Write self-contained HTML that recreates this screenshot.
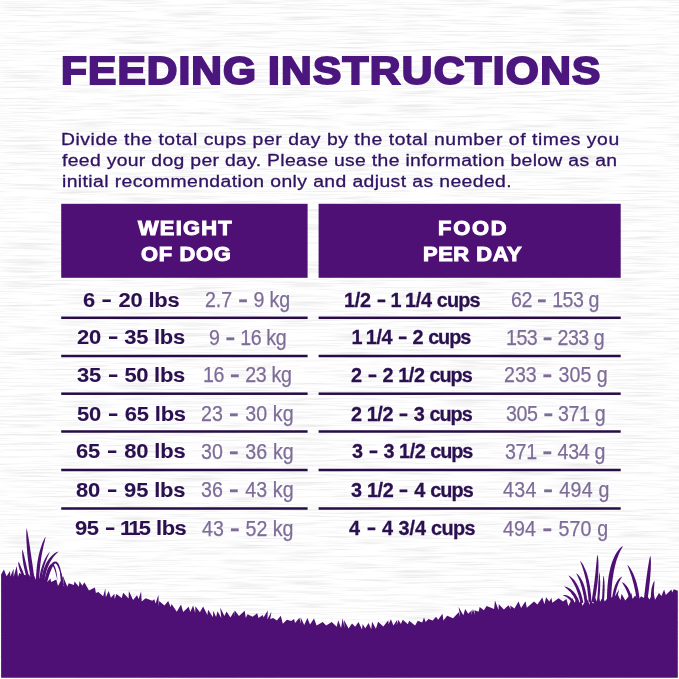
<!DOCTYPE html>
<html lang="en"><head><meta charset="utf-8"><title>Feeding Instructions</title>
<style>
html,body{margin:0;padding:0}
body{width:679px;height:679px;overflow:hidden;background:#f8f8f8;position:relative;font-family:"Liberation Sans",sans-serif}
.abs{position:absolute;white-space:nowrap;line-height:1;transform-origin:0 0}
#bg{position:absolute;left:0;top:0;width:679px;height:679px}
.title{color:#4b167e;font-weight:bold;font-size:38.6px;-webkit-text-stroke:2px #4b167e;transform:scaleX(1.1)}
.para{color:#2f1262;font-size:17.3px;-webkit-text-stroke:0.3px #2f1262;transform:scaleX(1.12)}
.hd{background:#4f1075;position:absolute}
.hdt{color:#fff;font-weight:bold;font-size:19.9px;-webkit-text-stroke:1px #fff;transform:scaleX(1.1)}
.ln{position:absolute;height:2.5px;background:#270c46}
.b{color:#2b1050;font-weight:bold;font-size:21.1px;-webkit-text-stroke:0.1px #2b1050;transform:scaleX(1.04)}
.d{display:inline-block;transform:translateY(-0.4px) scale(0.76,1.1);transform-origin:50% 62%}
.l .d{transform:translateY(0.2px) scale(0.7,1.45)}
.f{letter-spacing:calc(var(--ls) - 0.3px)}
.w{letter-spacing:calc(var(--ls) - 0.9px)}
.o{margin:0 -1.5px}
.c{word-spacing:-0.5px;transform:scaleX(0.94);-webkit-text-stroke:0.3px #2b1050}
.l{color:#7d6c98;font-size:22.3px;-webkit-text-stroke:0.25px #7d6c98;transform:scaleX(0.88)}
</style></head><body>
<svg id="bg" viewBox="0 0 679 679">
<defs><filter id="tx" x="0" y="0" width="100%" height="100%" color-interpolation-filters="sRGB">
<feTurbulence type="fractalNoise" baseFrequency="0.018 0.55" numOctaves="3" seed="4" result="n"/>
<feColorMatrix type="matrix" values="0.2 0 0 0 0.89  0.2 0 0 0 0.89  0.2 0 0 0 0.89  0 0 0 0 1"/>
</filter></defs>
<rect x="0" y="0" width="679" height="679" fill="#f8f8f8" filter="url(#tx)"/>
<g fill="#4f1075">
<path d="M1.1,677.8 L1.1,574.5 L3.9,569.6 L6.6,576.2 L10.0,570.9 L10.4,576.5 L13.6,568.7 L13.6,577.1 L16.7,565.9 L18.0,577.0 L19.2,573.0 L24.1,575.3 L29.2,574.5 L30.2,576.9 L33.0,573.5 L36.1,580.1 L42.9,576.9 L47.1,582.1 L50.5,578.6 L51.1,582.0 L56.3,579.5 L58.0,586.1 L63.3,575.7 L60.9,585.5 L61.4,579.7 L64.2,586.8 L62.7,575.4 L67.4,586.7 L68.7,583.2 L73.9,585.1 L74.5,581.4 L78.9,586.8 L79.5,581.2 L82.4,585.8 L84.3,582.3 L89.0,590.5 L94.9,587.6 L95.9,592.9 L98.3,592.1 L103.2,596.2 L105.3,588.6 L105.8,597.3 L108.7,590.9 L110.9,597.7 L114.4,593.8 L114.7,599.1 L116.4,593.9 L121.7,598.0 L123.2,592.7 L128.6,598.6 L128.9,591.1 L133.1,600.1 L137.0,595.2 L138.7,598.9 L141.1,591.3 L141.7,601.5 L145.6,598.2 L152.3,600.8 L154.3,599.3 L155.6,603.5 L158.4,594.7 L158.8,606.4 L159.2,601.1 L164.4,605.4 L168.2,601.0 L170.6,607.0 L171.6,604.1 L176.8,611.7 L181.0,604.4 L183.2,611.9 L188.7,606.7 L190.3,612.1 L193.1,605.4 L195.2,612.8 L195.4,606.2 L199.9,612.3 L203.1,606.4 L207.4,615.1 L208.1,609.7 L213.0,617.3 L213.2,610.8 L216.1,616.9 L217.5,611.2 L221.3,617.9 L220.2,607.4 L224.4,616.0 L226.6,611.4 L230.4,617.4 L234.4,611.0 L234.3,617.0 L234.8,610.5 L239.0,616.0 L244.7,610.8 L245.8,618.1 L247.5,614.3 L252.6,616.7 L257.2,613.3 L258.5,618.0 L262.8,615.1 L263.5,617.5 L267.8,610.6 L267.4,619.3 L271.4,611.7 L270.2,619.1 L273.2,618.0 L276.9,620.6 L280.8,615.8 L282.8,623.7 L286.9,619.8 L291.2,621.1 L294.1,619.0 L295.0,623.0 L299.4,617.8 L300.8,623.8 L300.6,617.3 L304.2,625.1 L307.4,618.1 L310.0,624.6 L314.0,618.6 L316.6,625.5 L322.7,622.0 L326.2,625.6 L331.7,622.1 L336.7,626.8 L338.2,620.2 L341.1,628.1 L342.7,618.2 L344.5,628.1 L344.0,620.0 L348.6,628.4 L352.0,623.6 L355.2,626.7 L358.5,622.0 L362.0,629.4 L362.6,623.9 L365.3,628.3 L368.6,623.1 L371.2,629.3 L372.1,621.7 L375.9,628.7 L378.1,621.8 L383.3,626.5 L388.3,620.2 L388.6,624.3 L390.9,619.3 L393.4,625.6 L397.3,619.8 L396.7,625.0 L398.4,619.9 L400.9,623.9 L402.8,619.8 L407.9,624.3 L409.1,620.8 L415.1,625.5 L417.8,620.7 L422.2,622.6 L424.0,617.5 L425.7,622.0 L428.4,619.0 L432.7,620.4 L436.0,616.8 L438.1,619.8 L442.5,613.8 L443.4,620.5 L447.2,615.7 L453.1,618.2 L458.7,612.2 L460.3,617.5 L458.6,607.0 L463.3,615.2 L465.2,609.0 L468.2,613.8 L471.8,610.2 L471.3,615.0 L473.0,609.0 L474.8,614.8 L474.4,610.3 L478.6,611.7 L479.7,607.1 L483.9,610.3 L486.6,605.9 L494.1,609.0 L495.0,600.5 L498.5,610.1 L498.8,604.2 L503.9,609.6 L508.5,605.3 L510.7,609.2 L510.2,605.4 L514.5,608.4 L518.5,601.4 L521.1,608.0 L525.5,601.2 L526.8,607.8 L534.0,601.6 L537.4,604.6 L542.3,597.5 L544.4,604.2 L546.1,597.3 L549.3,601.4 L551.4,597.7 L552.3,602.8 L558.6,598.2 L563.0,601.6 L566.4,599.1 L568.4,606.0 L572.2,598.1 L574.9,603.6 L575.4,600.1 L579.0,603.7 L581.0,600.5 L582.5,605.8 L586.8,598.5 L589.8,605.0 L589.2,598.0 L593.2,603.8 L595.0,597.6 L596.9,601.5 L598.6,595.4 L600.1,601.7 L602.8,596.9 L604.8,601.5 L608.0,597.3 L614.4,597.2 L619.0,589.4 L617.2,599.0 L616.7,592.0 L620.4,600.3 L621.6,593.8 L625.3,600.4 L631.3,593.1 L632.6,599.1 L635.2,595.4 L638.3,599.9 L641.1,596.2 L644.5,598.2 L646.7,595.3 L649.6,599.5 L653.4,591.6 L655.0,599.7 L659.0,593.0 L661.5,595.9 L664.1,589.4 L665.8,595.0 L671.4,589.4 L672.2,592.6 L673.8,589.3 L677.8,590.7 L677.8,590.0 L677.8,677.8 Z"/>
<path d="M34.8,580.7 L34.3,577.3 L33.8,573.9 L33.3,570.4 L32.8,566.8 L32.3,563.2 L31.7,559.5 L31.2,555.8 L30.6,552.0 L30.1,548.1 L29.5,544.2 L28.9,540.2 L28.2,536.2 L27.5,532.1 L26.5,528.0 L26.5,528.0 L26.3,532.2 L26.3,536.4 L26.4,540.5 L26.7,544.5 L26.9,548.5 L27.2,552.4 L27.6,556.2 L28.0,560.0 L28.5,563.7 L28.9,567.4 L29.5,570.9 L30.0,574.5 L30.6,577.9 L31.2,581.3 Z"/>
<path d="M39.0,583.0 L39.1,579.3 L39.3,575.6 L39.6,572.0 L39.9,568.4 L40.3,565.0 L40.7,561.6 L41.2,558.3 L41.7,555.0 L42.3,551.8 L43.0,548.7 L43.6,545.6 L44.4,542.5 L45.1,539.5 L45.7,536.5 L45.7,536.5 L44.1,539.2 L42.8,542.0 L41.7,545.0 L40.7,548.1 L39.7,551.2 L38.9,554.4 L38.2,557.7 L37.6,561.1 L37.1,564.6 L36.7,568.1 L36.4,571.7 L36.1,575.4 L36.0,579.2 L36.0,583.0 Z"/>
<path d="M44.0,584.1 L44.4,580.9 L44.9,577.8 L45.5,574.9 L46.2,572.1 L47.0,569.5 L47.9,567.0 L48.9,564.7 L49.9,562.5 L51.1,560.4 L52.4,558.4 L53.8,556.6 L55.3,554.8 L56.9,553.2 L58.5,551.4 L58.5,551.4 L56.3,552.3 L54.2,553.6 L52.3,555.2 L50.6,556.9 L48.9,558.9 L47.5,561.0 L46.1,563.3 L45.0,565.8 L43.9,568.4 L43.1,571.2 L42.3,574.2 L41.7,577.3 L41.3,580.5 L41.0,583.9 Z"/>
<path d="M41.1,583.1 L41.4,580.5 L41.7,578.0 L42.1,575.6 L42.5,573.2 L43.1,570.8 L43.6,568.6 L44.2,566.3 L44.9,564.1 L45.6,562.0 L46.4,559.9 L47.2,557.8 L48.1,555.8 L49.0,553.8 L49.8,551.7 L49.8,551.7 L48.3,553.4 L47.1,555.2 L45.9,557.2 L44.8,559.2 L43.9,561.3 L43.0,563.5 L42.2,565.7 L41.5,568.0 L40.8,570.3 L40.3,572.7 L39.8,575.2 L39.4,577.7 L39.1,580.3 L38.9,582.9 Z"/>
<path d="M29.8,579.7 L29.1,577.2 L28.5,574.7 L28.0,572.3 L27.4,570.0 L26.9,567.7 L26.4,565.4 L25.9,563.2 L25.4,561.1 L24.9,559.0 L24.5,556.9 L24.0,554.9 L23.5,553.0 L23.0,551.1 L22.4,549.2 L22.4,549.2 L22.2,551.2 L22.2,553.2 L22.3,555.2 L22.4,557.3 L22.7,559.4 L23.0,561.5 L23.3,563.8 L23.7,566.0 L24.2,568.3 L24.7,570.6 L25.3,573.0 L25.9,575.4 L26.5,577.8 L27.2,580.3 Z"/>
<path d="M25.8,578.5 L25.2,577.0 L24.6,575.6 L24.0,574.2 L23.5,572.9 L22.9,571.6 L22.4,570.3 L21.9,569.1 L21.4,567.9 L20.9,566.8 L20.4,565.7 L20.0,564.6 L19.5,563.6 L19.0,562.6 L18.4,561.7 L18.4,561.7 L18.3,562.8 L18.3,563.9 L18.5,565.1 L18.7,566.2 L19.0,567.4 L19.3,568.6 L19.7,569.9 L20.2,571.2 L20.6,572.5 L21.2,573.8 L21.8,575.2 L22.4,576.6 L23.0,578.0 L23.8,579.5 Z"/>
<path d="M46.0,586.3 L47.7,580.2 L49.2,575.1 L50.7,571.0 L52.1,567.7 L53.3,565.4 L54.4,564.0 L55.2,563.6 L55.7,563.6 L56.7,564.4 L57.8,566.2 L58.9,569.0 L60.1,572.8 L61.3,577.4 L62.6,583.0 L62.6,583.0 L62.0,577.3 L61.2,572.5 L60.3,568.6 L59.3,565.6 L58.2,563.3 L56.7,561.8 L54.8,561.4 L53.0,562.3 L51.4,564.1 L50.0,566.7 L48.5,570.1 L47.0,574.4 L45.5,579.7 L44.0,585.7 Z"/>
<path d="M44.9,586.2 L46.1,581.0 L47.3,576.6 L48.4,572.9 L49.4,570.0 L50.4,567.8 L51.3,566.4 L51.9,565.9 L52.2,565.8 L52.7,566.1 L53.6,567.3 L54.5,569.4 L55.4,572.2 L56.3,575.7 L57.4,580.0 L57.4,580.0 L57.0,575.6 L56.4,571.9 L55.7,569.0 L54.9,566.7 L54.0,565.1 L52.7,564.1 L51.1,564.1 L49.8,565.2 L48.6,566.9 L47.5,569.2 L46.5,572.3 L45.4,576.1 L44.2,580.6 L43.1,585.8 Z"/>
<path d="M64.0,584.8 L63.8,583.8 L63.6,582.8 L63.4,581.8 L63.2,580.8 L62.9,579.8 L62.7,578.8 L62.5,577.8 L62.3,576.8 L62.0,575.8 L61.8,574.8 L61.5,573.8 L61.2,572.8 L60.9,571.8 L60.4,570.8 L60.4,570.8 L60.2,571.9 L60.1,573.0 L60.2,574.0 L60.2,575.1 L60.3,576.1 L60.4,577.1 L60.5,578.2 L60.7,579.2 L60.8,580.2 L61.0,581.2 L61.3,582.3 L61.5,583.3 L61.7,584.3 L62.0,585.2 Z"/>
<path d="M611.0,602.0 L611.2,596.2 L611.5,590.7 L611.9,585.5 L612.4,580.6 L613.1,575.9 L613.8,571.6 L614.7,567.5 L615.6,563.7 L616.6,560.1 L617.8,556.9 L619.0,553.8 L620.3,551.0 L621.7,548.4 L623.1,545.8 L623.1,545.8 L620.7,547.6 L618.5,549.9 L616.6,552.6 L614.9,555.6 L613.3,558.9 L611.9,562.6 L610.7,566.5 L609.7,570.7 L608.8,575.3 L608.1,580.0 L607.6,585.1 L607.2,590.5 L607.0,596.1 L607.0,602.0 Z"/>
<path d="M594.5,602.3 L595.2,598.3 L595.9,594.4 L596.5,590.5 L597.0,586.8 L597.5,583.2 L597.8,579.6 L598.1,576.1 L598.3,572.8 L598.4,569.5 L598.5,566.3 L598.4,563.1 L598.3,560.1 L598.0,557.2 L597.4,554.4 L597.4,554.4 L596.9,557.2 L596.7,560.1 L596.4,563.1 L596.1,566.1 L595.8,569.3 L595.5,572.5 L595.1,575.9 L594.7,579.3 L594.3,582.8 L593.8,586.4 L593.3,590.1 L592.7,593.9 L592.1,597.8 L591.5,601.7 Z"/>
<path d="M591.4,601.9 L591.2,598.1 L590.9,594.3 L590.5,590.7 L590.1,587.3 L589.5,583.9 L588.9,580.7 L588.1,577.7 L587.3,574.8 L586.4,572.0 L585.3,569.4 L584.2,566.9 L583.0,564.6 L581.6,562.5 L580.0,560.7 L580.0,560.7 L580.8,563.0 L581.7,565.3 L582.5,567.7 L583.3,570.1 L584.1,572.7 L584.8,575.5 L585.5,578.3 L586.1,581.3 L586.7,584.4 L587.2,587.7 L587.6,591.1 L588.0,594.6 L588.4,598.3 L588.6,602.1 Z"/>
<path d="M587.4,601.8 L587.0,598.9 L586.6,596.1 L586.1,593.4 L585.6,590.9 L585.0,588.5 L584.3,586.2 L583.6,584.1 L582.8,582.0 L581.9,580.2 L580.9,578.4 L579.9,576.9 L578.8,575.5 L577.6,574.2 L576.2,573.3 L576.2,573.3 L576.9,574.8 L577.6,576.3 L578.3,577.8 L579.0,579.4 L579.7,581.1 L580.4,583.0 L581.0,584.9 L581.6,587.0 L582.2,589.2 L582.7,591.6 L583.3,594.0 L583.8,596.6 L584.2,599.3 L584.6,602.2 Z"/>
<path d="M583.3,602.7 L582.7,599.8 L582.0,597.1 L581.3,594.5 L580.5,592.0 L579.6,589.7 L578.6,587.5 L577.6,585.4 L576.5,583.5 L575.4,581.7 L574.2,580.1 L572.9,578.7 L571.5,577.4 L570.1,576.3 L568.5,575.6 L568.5,575.6 L569.5,577.0 L570.5,578.4 L571.5,579.8 L572.4,581.4 L573.4,583.0 L574.3,584.7 L575.2,586.6 L576.0,588.6 L576.9,590.7 L577.7,593.0 L578.5,595.3 L579.2,597.9 L580.0,600.5 L580.7,603.3 Z"/>
<path d="M580.3,604.6 L579.6,602.4 L578.8,600.4 L578.0,598.5 L577.0,596.8 L576.1,595.1 L575.0,593.6 L573.9,592.1 L572.7,590.9 L571.4,589.7 L570.1,588.7 L568.7,587.9 L567.3,587.2 L565.8,586.7 L564.2,586.5 L564.2,586.5 L565.4,587.5 L566.5,588.4 L567.7,589.4 L568.7,590.4 L569.8,591.5 L570.8,592.6 L571.7,593.9 L572.7,595.2 L573.6,596.6 L574.5,598.2 L575.3,599.8 L576.1,601.6 L576.9,603.5 L577.7,605.4 Z"/>
<path d="M577.1,607.6 L576.4,605.9 L575.7,604.3 L574.9,602.8 L574.0,601.4 L573.1,600.1 L572.1,599.0 L571.1,598.0 L570.0,597.1 L568.9,596.3 L567.7,595.7 L566.5,595.3 L565.2,595.0 L564.0,594.9 L562.7,595.1 L562.7,595.1 L563.8,595.7 L564.9,596.2 L565.9,596.7 L566.8,597.3 L567.8,598.0 L568.6,598.8 L569.5,599.6 L570.3,600.6 L571.1,601.6 L571.9,602.8 L572.7,604.0 L573.5,605.4 L574.2,606.8 L574.9,608.4 Z"/>
<path d="M599.0,602.1 L599.3,599.7 L599.5,597.3 L599.7,595.0 L599.9,592.7 L600.0,590.4 L600.1,588.2 L600.2,586.0 L600.2,583.9 L600.2,581.8 L600.1,579.8 L600.0,577.8 L599.9,575.8 L599.6,573.9 L599.2,572.1 L599.2,572.1 L598.9,574.0 L598.8,575.9 L598.7,577.8 L598.6,579.8 L598.4,581.8 L598.3,583.9 L598.2,586.0 L598.1,588.1 L597.9,590.3 L597.8,592.5 L597.6,594.8 L597.4,597.1 L597.2,599.5 L597.0,601.9 Z"/>
<path d="M603.8,602.1 L604.0,600.0 L604.2,597.9 L604.3,595.9 L604.4,593.9 L604.5,591.9 L604.6,589.9 L604.6,588.0 L604.6,586.1 L604.5,584.3 L604.5,582.5 L604.3,580.7 L604.2,579.0 L603.9,577.3 L603.5,575.6 L603.5,575.6 L603.2,577.3 L603.1,579.0 L603.0,580.7 L602.9,582.5 L602.8,584.3 L602.7,586.1 L602.6,588.0 L602.5,589.9 L602.4,591.8 L602.3,593.7 L602.2,595.7 L602.1,597.8 L601.9,599.8 L601.8,601.9 Z"/>
<path d="M614.2,602.1 L614.5,599.5 L614.9,597.0 L615.3,594.6 L615.8,592.3 L616.3,590.2 L616.8,588.3 L617.4,586.4 L618.0,584.7 L618.6,583.1 L619.3,581.6 L620.0,580.2 L620.7,579.0 L621.5,577.8 L622.2,576.5 L622.2,576.5 L620.9,577.2 L619.7,578.1 L618.6,579.3 L617.6,580.6 L616.7,582.1 L615.8,583.8 L615.0,585.6 L614.4,587.5 L613.7,589.6 L613.2,591.8 L612.7,594.1 L612.3,596.6 L612.0,599.2 L611.8,601.9 Z"/>
<path d="M647.1,602.2 L647.7,598.5 L648.2,594.7 L648.7,591.1 L649.1,587.5 L649.5,584.0 L649.9,580.6 L650.2,577.2 L650.4,573.9 L650.7,570.7 L650.8,567.5 L650.9,564.4 L650.9,561.4 L650.8,558.4 L650.4,555.5 L650.4,555.5 L649.6,558.3 L649.0,561.2 L648.5,564.2 L648.0,567.2 L647.5,570.3 L647.1,573.5 L646.6,576.8 L646.2,580.1 L645.7,583.6 L645.3,587.1 L644.9,590.6 L644.4,594.3 L644.0,598.0 L643.5,601.8 Z"/>
<path d="M639.9,601.8 L639.6,598.5 L639.1,595.3 L638.6,592.1 L638.1,589.1 L637.4,586.2 L636.7,583.3 L635.9,580.6 L634.9,577.9 L634.0,575.4 L632.9,573.0 L631.7,570.7 L630.4,568.5 L629.0,566.5 L627.4,564.7 L627.4,564.7 L628.1,567.0 L629.0,569.2 L629.8,571.5 L630.7,573.9 L631.5,576.3 L632.2,578.8 L632.9,581.4 L633.6,584.1 L634.3,586.9 L634.9,589.7 L635.5,592.7 L636.0,595.8 L636.5,598.9 L636.9,602.2 Z"/>
<path d="M633.0,601.7 L632.5,599.5 L631.9,597.5 L631.3,595.6 L630.7,593.7 L630.0,592.0 L629.3,590.4 L628.6,588.9 L627.8,587.5 L626.9,586.3 L626.0,585.2 L625.1,584.2 L624.1,583.3 L623.1,582.7 L621.9,582.3 L621.9,582.3 L622.5,583.3 L623.1,584.3 L623.7,585.3 L624.4,586.4 L625.0,587.5 L625.6,588.7 L626.2,590.1 L626.9,591.5 L627.5,593.0 L628.1,594.7 L628.7,596.4 L629.3,598.3 L629.9,600.2 L630.4,602.3 Z"/>
<path d="M653.6,602.0 L653.6,600.2 L653.6,598.5 L653.6,596.9 L653.7,595.3 L653.7,593.7 L653.8,592.1 L653.9,590.6 L654.0,589.1 L654.1,587.7 L654.2,586.3 L654.3,584.9 L654.4,583.5 L654.5,582.1 L654.4,580.7 L654.4,580.7 L653.6,581.9 L653.1,583.2 L652.6,584.5 L652.2,585.9 L651.8,587.4 L651.5,588.8 L651.3,590.4 L651.1,591.9 L651.0,593.5 L650.9,595.2 L650.9,596.8 L650.9,598.5 L650.9,600.3 L651.0,602.0 Z"/>
</g>
<g fill="#4f1075"><rect x="61.2" y="203.8" width="246.4" height="74"/><rect x="318.6" y="203.8" width="302.1" height="74"/></g>
<g fill="#270c46">
<rect x="61.2" y="316.55" width="246.4" height="2.5"/><rect x="318.6" y="316.55" width="302.1" height="2.5"/>
<rect x="61.2" y="354.75" width="246.4" height="2.5"/><rect x="318.6" y="354.75" width="302.1" height="2.5"/>
<rect x="61.2" y="392.45" width="246.4" height="2.5"/><rect x="318.6" y="392.45" width="302.1" height="2.5"/>
<rect x="61.2" y="430.25" width="246.4" height="2.5"/><rect x="318.6" y="430.25" width="302.1" height="2.5"/>
<rect x="61.2" y="468.75" width="246.4" height="2.5"/><rect x="318.6" y="468.75" width="302.1" height="2.5"/>
<rect x="61.2" y="507.25" width="246.4" height="2.5"/><rect x="318.6" y="507.25" width="302.1" height="2.5"/>
</g>
</svg>
<div class="abs title" id="t1" style="left:61.20px;top:52.00px;--ls:0.977px;letter-spacing:var(--ls)">FEEDING</div>
<div class="abs title" id="t2" style="left:267.60px;top:52.00px;--ls:1.167px;letter-spacing:var(--ls)">INSTRUCTIONS</div>
<div class="abs para" id="p1" style="left:61.27px;top:131.00px;--ls:0.485px;letter-spacing:var(--ls)">Divide the total cups per day by the total number of times you</div>
<div class="abs para" id="p2" style="left:62.00px;top:152.00px;--ls:0.291px;letter-spacing:var(--ls)">feed your dog per day. Please use the information below as an</div>
<div class="abs para" id="p3" style="left:61.96px;top:173.00px;--ls:0.358px;letter-spacing:var(--ls)">initial recommendation only and adjust as needed.</div>
<div class="abs hdt" id="h1" style="left:137.85px;top:219.00px;--ls:1.111px;letter-spacing:var(--ls)">WEIGHT</div>
<div class="abs hdt" id="h2" style="left:140.74px;top:245.00px;--ls:0.618px;letter-spacing:var(--ls)">OF DOG</div>
<div class="abs hdt" id="h3" style="left:437.97px;top:219.00px;--ls:1.648px;letter-spacing:var(--ls)">FOOD</div>
<div class="abs hdt" id="h4" style="left:423.01px;top:245.00px;--ls:0.504px;letter-spacing:var(--ls)">PER DAY</div>
<div class="abs b" id="a0" style="left:82.66px;top:289.00px;--ls:-0.234px;letter-spacing:var(--ls)">6 <span class="d">–</span> 20 lbs</div>
<div class="abs l" id="b0" style="left:204.90px;top:289.00px;--ls:-0.129px;letter-spacing:var(--ls)">2.7 <span class="d">–</span> 9 kg</div>
<div class="abs b c" id="c0" style="left:343.53px;top:289.00px;--ls:-0.010px;letter-spacing:var(--ls)"><span class="f">1/2</span> <span class="d">–</span> <span class="o">1</span> <span class="f">1/4</span> <span class="w">cups</span></div>
<div class="abs l" id="d0" style="left:511.45px;top:289.00px;--ls:-0.562px;letter-spacing:var(--ls)">62 <span class="d">–</span> 153 g</div>
<div class="abs b" id="a1" style="left:77.32px;top:326.00px;--ls:-0.278px;letter-spacing:var(--ls)">20 <span class="d">–</span> 35 lbs</div>
<div class="abs l" id="b1" style="left:209.16px;top:327.00px;--ls:-0.435px;letter-spacing:var(--ls)">9 <span class="d">–</span> 16 kg</div>
<div class="abs b c" id="c1" style="left:353.10px;top:326.00px;--ls:-0.216px;letter-spacing:var(--ls)"><span class="o">1</span> <span class="f">1/4</span> <span class="d">–</span> 2 <span class="w">cups</span></div>
<div class="abs l" id="d1" style="left:505.58px;top:327.00px;--ls:-0.577px;letter-spacing:var(--ls)">153 <span class="d">–</span> 233 g</div>
<div class="abs b" id="a2" style="left:77.07px;top:364.00px;--ls:-0.269px;letter-spacing:var(--ls)">35 <span class="d">–</span> 50 lbs</div>
<div class="abs l" id="b2" style="left:202.78px;top:364.00px;--ls:-0.346px;letter-spacing:var(--ls)">16 <span class="d">–</span> 23 kg</div>
<div class="abs b c" id="c2" style="left:350.91px;top:364.00px;--ls:-0.169px;letter-spacing:var(--ls)">2 <span class="d">–</span> 2 <span class="f">1/2</span> <span class="w">cups</span></div>
<div class="abs l" id="d2" style="left:503.69px;top:364.00px;--ls:0.003px;letter-spacing:var(--ls)">233 <span class="d">–</span> 305 g</div>
<div class="abs b" id="a3" style="left:76.93px;top:403.00px;--ls:-0.189px;letter-spacing:var(--ls)">50 <span class="d">–</span> 65 lbs</div>
<div class="abs l" id="b3" style="left:201.31px;top:403.00px;--ls:0.128px;letter-spacing:var(--ls)">23 <span class="d">–</span> 30 kg</div>
<div class="abs b c" id="c3" style="left:350.91px;top:403.00px;--ls:-0.169px;letter-spacing:var(--ls)">2 <span class="f">1/2</span> <span class="d">–</span> 3 <span class="w">cups</span></div>
<div class="abs l" id="d3" style="left:506.03px;top:403.00px;--ls:-0.465px;letter-spacing:var(--ls)">305 <span class="d">–</span> 371 g</div>
<div class="abs b" id="a4" style="left:76.25px;top:440.00px;--ls:-0.127px;letter-spacing:var(--ls)">65 <span class="d">–</span> 80 lbs</div>
<div class="abs l" id="b4" style="left:201.47px;top:441.00px;--ls:0.138px;letter-spacing:var(--ls)">30 <span class="d">–</span> 36 kg</div>
<div class="abs b c" id="c4" style="left:351.67px;top:440.00px;--ls:-0.196px;letter-spacing:var(--ls)">3 <span class="d">–</span> 3 <span class="f">1/2</span> <span class="w">cups</span></div>
<div class="abs l" id="d4" style="left:505.09px;top:441.00px;--ls:-0.377px;letter-spacing:var(--ls)">371 <span class="d">–</span> 434 g</div>
<div class="abs b" id="a5" style="left:75.97px;top:479.00px;--ls:-0.138px;letter-spacing:var(--ls)">80 <span class="d">–</span> 95 lbs</div>
<div class="abs l" id="b5" style="left:201.07px;top:479.00px;--ls:0.130px;letter-spacing:var(--ls)">36 <span class="d">–</span> 43 kg</div>
<div class="abs b c" id="c5" style="left:350.55px;top:479.00px;--ls:-0.088px;letter-spacing:var(--ls)">3 <span class="f">1/2</span> <span class="d">–</span> 4 <span class="w">cups</span></div>
<div class="abs l" id="d5" style="left:503.00px;top:479.00px;--ls:0.319px;letter-spacing:var(--ls)">434 <span class="d">–</span> 494 g</div>
<div class="abs b" id="a6" style="left:75.17px;top:517.00px;--ls:-0.452px;letter-spacing:var(--ls)">95 <span class="d">–</span> <span class="o">1</span><span class="o">1</span>5 lbs</div>
<div class="abs l" id="b6" style="left:201.86px;top:518.00px;--ls:-0.015px;letter-spacing:var(--ls)">43 <span class="d">–</span> 52 kg</div>
<div class="abs b c" id="c6" style="left:348.52px;top:517.00px;--ls:0.225px;letter-spacing:var(--ls)">4 <span class="d">–</span> 4 <span class="f">3/4</span> <span class="w">cups</span></div>
<div class="abs l" id="d6" style="left:502.83px;top:518.00px;--ls:0.168px;letter-spacing:var(--ls)">494 <span class="d">–</span> 570 g</div>
</body></html>
